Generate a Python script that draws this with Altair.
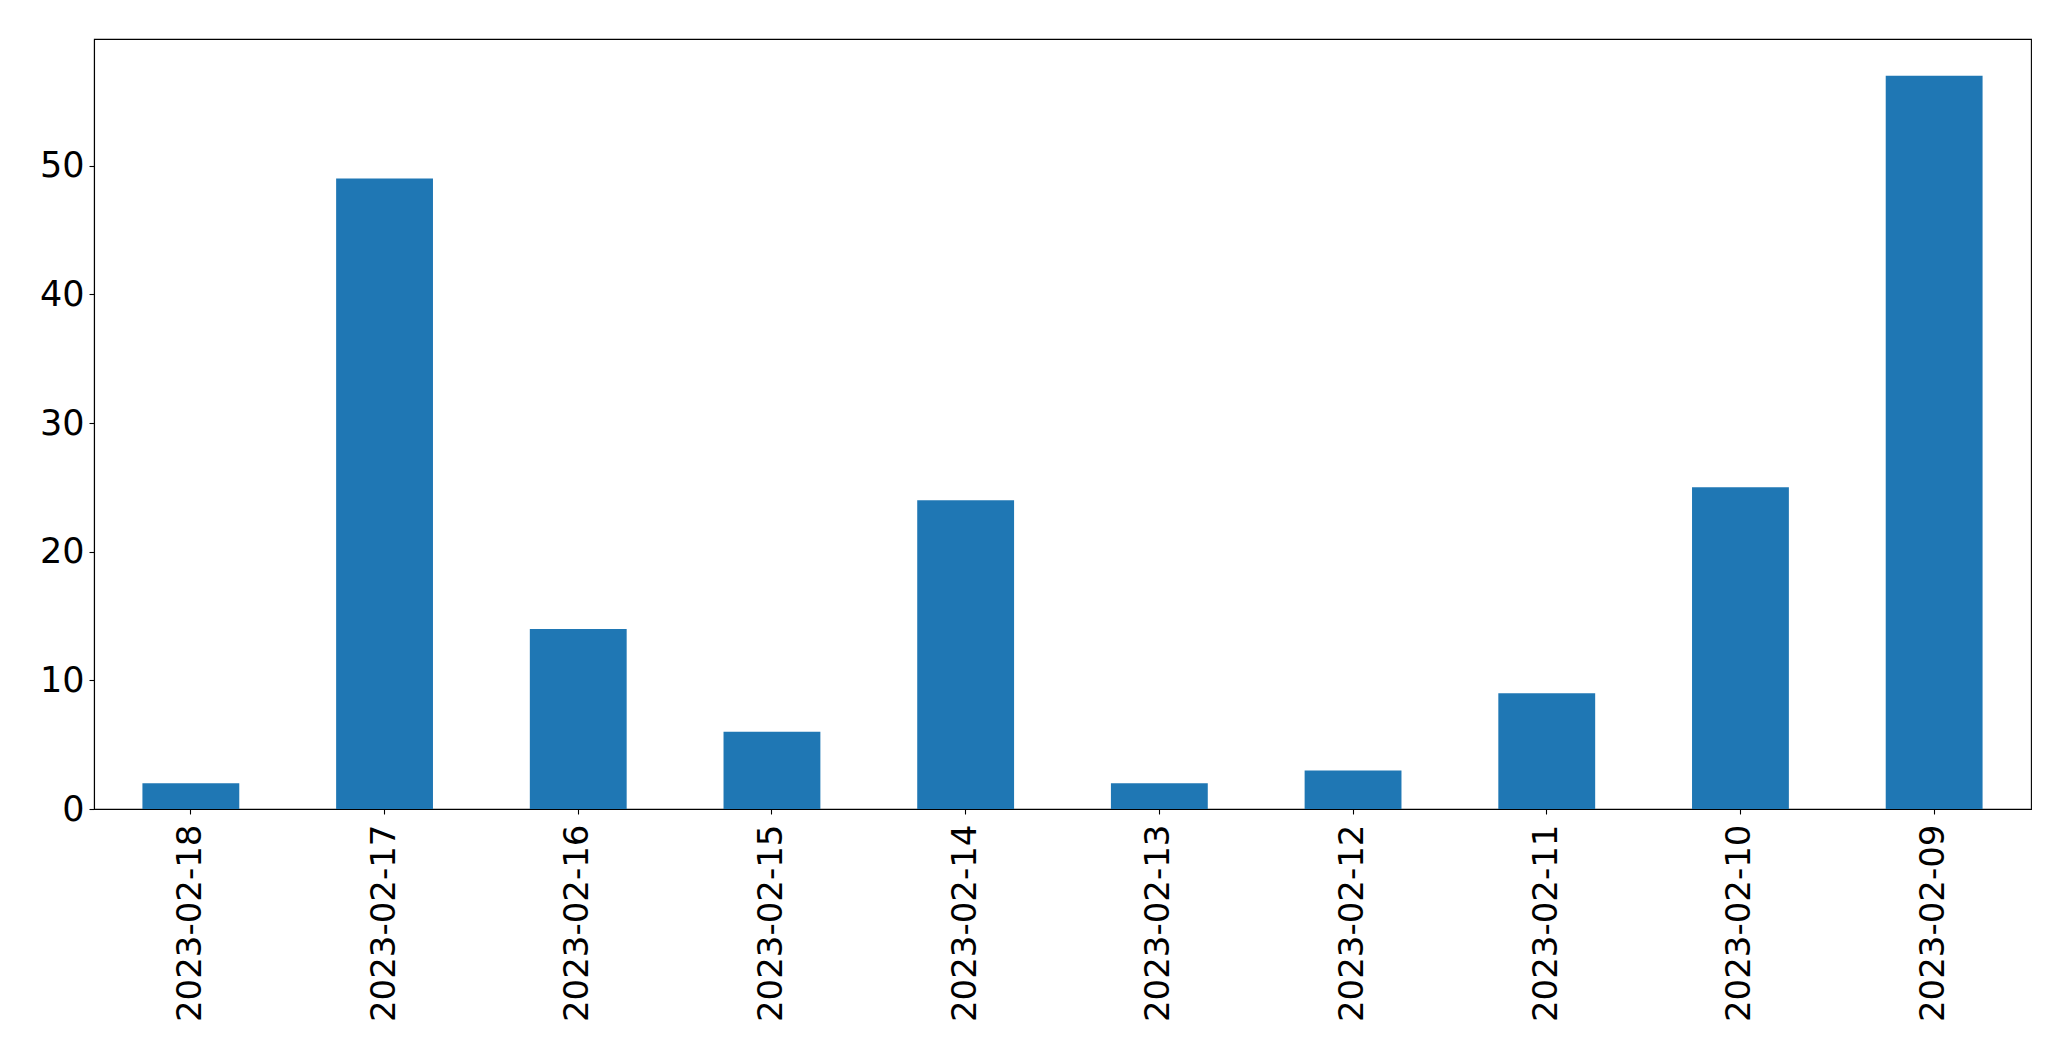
import altair as alt
import pandas as pd

dates = ["2023-02-18", "2023-02-17", "2023-02-16", "2023-02-15", "2023-02-14",
         "2023-02-13", "2023-02-12", "2023-02-11", "2023-02-10", "2023-02-09"]
counts = [2, 49, 14, 6, 24, 2, 3, 9, 25, 57]
y_ticks = [0, 10, 20, 30, 40, 50]

df = pd.DataFrame({"date": dates, "count": counts})

FONT = "DejaVu Sans"

chart = alt.Chart(df).mark_bar(color="#1f77b4").encode(
    x=alt.X("date:N", sort=None, title=None,
            scale=alt.Scale(paddingInner=0.5, paddingOuter=0.25),
            axis=alt.Axis(labelAngle=270, labelAlign="right", labelBaseline="middle",
                          labelFontSize=34, labelFont=FONT, labelColor="black",
                          labelLimit=1000,
                          tickColor="black", tickSize=5, tickWidth=1.1,
                          domainColor="black", domainWidth=1.1, labelPadding=10)),
    y=alt.Y("count:Q", title=None,
            scale=alt.Scale(domain=[0, 59.85], nice=False, zero=True),
            axis=alt.Axis(values=y_ticks, labelFontSize=35, labelFont=FONT,
                          labelColor="black", tickColor="black", tickSize=5,
                          tickWidth=1.1, domainColor="black", domainWidth=1.1,
                          labelPadding=5, grid=False)),
).properties(
    width=1937, height=770,
    autosize=alt.AutoSizeParams(type="none"),
    padding={"left": 86, "top": 31, "right": 30, "bottom": 240},
).configure_view(
    stroke="black", strokeWidth=1.1, fill="white"
)

chart.save("out.html", embed_options={"renderer": "svg", "actions": False})
